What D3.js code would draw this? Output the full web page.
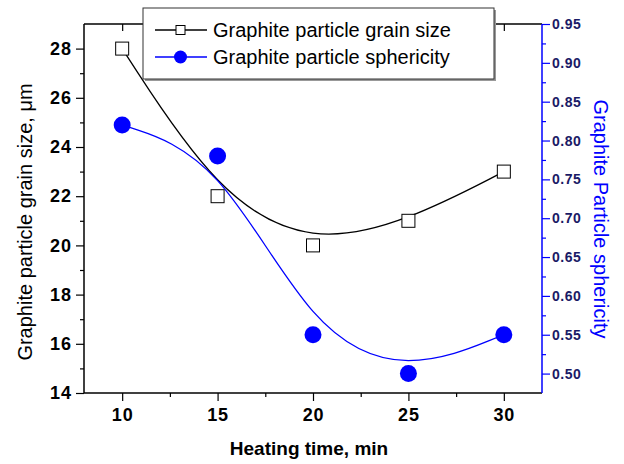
<!DOCTYPE html>
<html>
<head>
<meta charset="utf-8">
<script src="https://cdn.jsdelivr.net/npm/d3@7"></script>
<style>
  html, body { margin: 0; padding: 0; background: #fff; }
  svg { display: block; font-family: "Liberation Sans", Arial, sans-serif; }
</style>
</head>
<body>
<svg id="chart" width="624" height="464"></svg>
<script>
// data
const times = [10, 15, 20, 25, 30];
const grainSize = [28, 22, 20, 21, 23];
const sphericity = [0.82, 0.78, 0.55, 0.50, 0.55];
const xTicks = [10, 15, 20, 25, 30];
const xMinor = [12.5, 17.5, 22.5, 27.5];
const yLeftTicks = [14, 16, 18, 20, 22, 24, 26, 28];
const yLeftMinor = [15, 17, 19, 21, 23, 25, 27];
const yRightTicks = [0.50, 0.55, 0.60, 0.65, 0.70, 0.75, 0.80, 0.85, 0.90, 0.95];
const yRightMinor = [0.525, 0.575, 0.625, 0.675, 0.725, 0.775, 0.825, 0.875, 0.925];

const margin = { top: 24, right: 82, bottom: 71, left: 84 }; // plot box 84..542 x 24..393
const svg = d3.select('#chart');
const W = 624, H = 464;
const width = W - margin.left - margin.right;
const height = H - margin.top - margin.bottom;

const g = svg.append('g').attr('transform', `translate(${margin.left},${margin.top})`);

const x = d3.scaleLinear().domain([8, 32]).range([0, width]);
const yL = d3.scaleLinear().domain([14, 29]).range([height, 0]);
const yR = d3.scaleLinear().domain([0.475, 0.95]).range([height, 0]);

const blue = '#0000ff';

// bottom axis
const xAxis = g.append('g').attr('transform', `translate(0,${height})`)
  .call(d3.axisBottom(x).tickValues(xTicks).tickSize(8).tickFormat(d3.format('d')));
xAxis.call(a => a.select('.domain').remove());
xAxis.selectAll('line').attr('stroke-width', 1.2);
xAxis.selectAll('text').attr('font-size', 18).attr('font-weight', 'bold').attr('dy', '0.95em').attr('fill', '#000')
  .attr('letter-spacing', 0.8);
g.append('g').attr('transform', `translate(0,${height})`)
  .call(d3.axisBottom(x).tickValues(xMinor).tickSize(4).tickFormat(''))
  .call(a => a.select('.domain').remove())
  .selectAll('line').attr('stroke-width', 1.2);

// top axis ticks (inward)
g.append('g')
  .call(d3.axisBottom(x).tickValues(xTicks).tickSize(7).tickFormat(''))
  .call(a => a.select('.domain').remove())
  .selectAll('line').attr('stroke-width', 1.2);

// left axis
const yAxisL = g.append('g')
  .call(d3.axisLeft(yL).tickValues(yLeftTicks).tickSize(8).tickPadding(4));
yAxisL.call(a => a.select('.domain').remove());
yAxisL.selectAll('line').attr('stroke-width', 1.2);
yAxisL.selectAll('text').attr('font-size', 18).attr('font-weight', 'bold').attr('fill', '#000')
  .attr('letter-spacing', 1);
g.append('g')
  .call(d3.axisLeft(yL).tickValues(yLeftMinor).tickSize(4).tickFormat(''))
  .call(a => a.select('.domain').remove())
  .selectAll('line').attr('stroke-width', 1.2);

// right axis (blue)
const yAxisR = g.append('g').attr('transform', `translate(${width},0)`)
  .call(d3.axisRight(yR).tickValues(yRightTicks).tickSize(8).tickPadding(2).tickFormat(d3.format('.2f')));
yAxisR.call(a => a.select('.domain').remove());
yAxisR.selectAll('line').attr('stroke', blue).attr('stroke-width', 1.2);
yAxisR.selectAll('text').attr('font-size', 14).attr('font-weight', 'bold').attr('fill', '#1a1a66')
  .attr('letter-spacing', 0.5);
g.append('g').attr('transform', `translate(${width},0)`)
  .call(d3.axisRight(yR).tickValues(yRightMinor).tickSize(4).tickFormat(''))
  .call(a => a.select('.domain').remove())
  .selectAll('line').attr('stroke', blue).attr('stroke-width', 1.2);

// frame
g.append('line').attr('x1', 0).attr('x2', width).attr('y1', 0).attr('y2', 0).attr('stroke', '#000').attr('stroke-width', 1.5);
g.append('line').attr('x1', 0).attr('x2', width).attr('y1', height).attr('y2', height).attr('stroke', '#000').attr('stroke-width', 1.5);
g.append('line').attr('x1', 0).attr('x2', 0).attr('y1', 0).attr('y2', height).attr('stroke', '#000').attr('stroke-width', 1.5);
g.append('line').attr('x1', width).attr('x2', width).attr('y1', 0).attr('y2', height).attr('stroke', blue).attr('stroke-width', 1.5);

// curves
const lineL = d3.line().x((d, i) => x(times[i])).y(d => yL(d)).curve(d3.curveBasis);
const lineR = d3.line().x((d, i) => x(times[i])).y(d => yR(d)).curve(d3.curveBasis);
g.append('path').attr('d', lineL(grainSize)).attr('fill', 'none').attr('stroke', '#000').attr('stroke-width', 1.3);
g.append('path').attr('d', lineR(sphericity)).attr('fill', 'none').attr('stroke', blue).attr('stroke-width', 1.3);

// markers
g.selectAll('.sq').data(grainSize).enter().append('rect')
  .attr('x', (d, i) => x(times[i]) - 6.5).attr('y', d => yL(d) - 6.5)
  .attr('width', 13).attr('height', 13)
  .attr('fill', '#fff').attr('stroke', '#000').attr('stroke-width', 1);
g.selectAll('.dot').data(sphericity).enter().append('circle')
  .attr('cx', (d, i) => x(times[i])).attr('cy', d => yR(d)).attr('r', 8.5)
  .attr('fill', blue);

// axis titles
svg.append('text').attr('transform', 'translate(32,222) rotate(-90)')
  .attr('text-anchor', 'middle').attr('font-size', 20).attr('fill', '#000')
  .text('Graphite particle grain size, μm');
svg.append('text').attr('transform', 'translate(594,219) rotate(90)')
  .attr('text-anchor', 'middle').attr('font-size', 20).attr('fill', blue)
  .text('Graphite Particle sphericity');
svg.append('text').attr('x', 309).attr('y', 455)
  .attr('text-anchor', 'middle').attr('font-size', 19).attr('font-weight', 'bold').attr('fill', '#000')
  .text('Heating time, min');

// legend
const legend = svg.append('g');
legend.append('rect').attr('x', 145).attr('y', 10).attr('width', 351).attr('height', 71).attr('fill', '#999');
legend.append('rect').attr('x', 143).attr('y', 8).attr('width', 351).attr('height', 71)
  .attr('fill', '#fff').attr('stroke', '#333').attr('stroke-width', 1);
const rows = [
  { label: 'Graphite particle grain size', color: '#000', y: 30, mark: 'sq' },
  { label: 'Graphite particle sphericity', color: blue, y: 57, mark: 'dot' }
];
rows.forEach(r => {
  legend.append('line').attr('x1', 155).attr('x2', 207).attr('y1', r.y).attr('y2', r.y)
    .attr('stroke', r.color).attr('stroke-width', 1.3);
  if (r.mark === 'sq') {
    legend.append('rect').attr('x', 176).attr('y', r.y - 4.5).attr('width', 9).attr('height', 9)
      .attr('fill', '#fff').attr('stroke', '#000').attr('stroke-width', 1);
  } else {
    legend.append('circle').attr('cx', 180.5).attr('cy', r.y).attr('r', 6.5).attr('fill', blue);
  }
  legend.append('text').attr('x', 213).attr('y', r.y + 7).attr('font-size', 20).attr('fill', '#000')
    .text(r.label);
});
</script>
</body>
</html>
